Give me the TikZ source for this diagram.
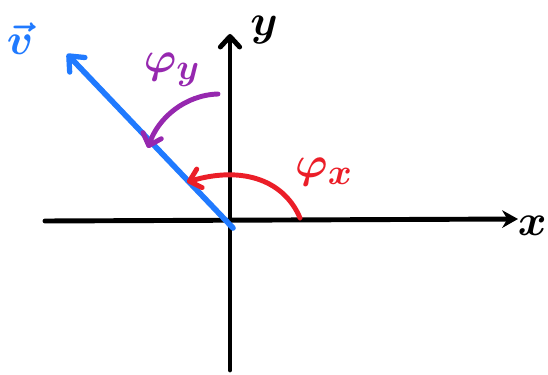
\documentclass[tikz,border=0pt]{standalone}
\usepackage{amsmath,amssymb,bm}
\usetikzlibrary{arrows.meta}
\definecolor{vblue}{RGB}{32,122,255}
\definecolor{phipurple}{RGB}{150,40,175}
\definecolor{phired}{RGB}{235,30,40}
\tikzset{
  axis/.style={line width=2.8pt,line cap=round,black},
  vecline/.style={line width=3.2pt,line cap=round,vblue,-{Straight Barb[round,length=7pt,width=12pt,line width=3pt]}},
  anglearc/.style={line width=2.8pt,line cap=round,-{Straight Barb[round,length=6pt,width=11pt,line width=2.8pt]}},
  lbl/.style={inner sep=0pt,font=\fontsize{26}{30}\selectfont},
  biglbl/.style={inner sep=0pt,font=\fontsize{30}{34}\selectfont},
}
\begin{document}
\begin{tikzpicture}[x=0.02cm,y=-0.02cm]
\useasboundingbox (0,0) rectangle (548,375);
% axes
\coordinate (xs) at (45,221);
\coordinate (xe) at (518,219);
\coordinate (ys) at (230,370);
\coordinate (ye) at (230,34);
\coordinate (o) at (233,228);
\coordinate (vt) at (67,54);
\draw[axis,-{Stealth[length=9pt,width=10pt]}] (xs) -- (xe);
\draw[axis,-{Straight Barb[round,length=6pt,width=11pt,line width=2.8pt]}] (ys) -- (ye);
% vector
\draw[vecline] (o) -- (vt);
% arcs
\coordinate (pys) at (218,94);
\coordinate (pye) at (148,148);
\coordinate (pxs) at (300,218);
\coordinate (pxe) at (187,182);
\draw[anglearc,phipurple] (pys) .. controls (185,95) and (158,118) .. (pye);
\draw[anglearc,phired] (pxs) .. controls (285,182) and (245,165) .. (pxe);
% labels
\node[lbl,anchor=north] (ylab) at (264,16) {$\bm{y}$};
\node[lbl,anchor=east] (xlab) at (547,226) {$\bm{x}$};
\node[lbl,vblue,anchor=north] (vlab) at (20,22) {$\bm{\vec{v}}$};
\node[biglbl,phipurple] (phiy) at (172,70) {$\bm{\varphi_y}$};
\node[biglbl,phired] (phix) at (324,172) {$\bm{\varphi_x}$};
\end{tikzpicture}
\end{document}
